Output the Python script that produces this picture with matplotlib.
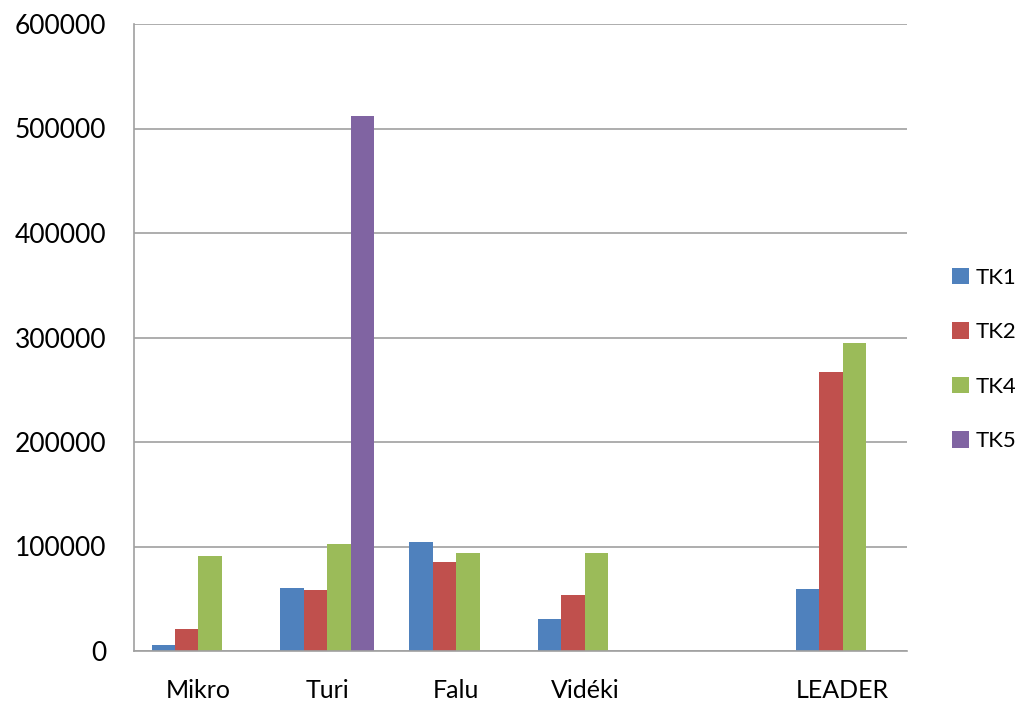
import numpy as np
import matplotlib
matplotlib.use("Agg")
import matplotlib.pyplot as plt
from matplotlib.patches import Patch

categories = ["Mikro", "Turi", "Falu", "Vidéki", "", "LEADER"]
series_names = ["TK1", "TK2", "TK4", "TK5"]
tk1 = [6000, 60000, 104000, 31000, 0, 59000]
tk2 = [21000, 58000, 85000, 54000, 0, 267000]
tk4 = [91000, 102000, 94000, 94000, 0, 295000]
tk5 = [0, 512000, 0, 0, 0, 0]
colors = ["#4F81BD", "#C0504D", "#9BBB59", "#8064A2"]
yticks = [0, 100000, 200000, 300000, 400000, 500000, 600000]

plt.rcParams['font.family'] = ['Lato', 'DejaVu Sans']

W, H = 1015, 703
fig = plt.figure(figsize=(W / 100, H / 100), dpi=100)
ax = fig.add_axes([134 / W, (H - 651) / H, (907 - 134) / W, (651 - 24) / H])

x = np.arange(len(categories))
w = 1 / 5.5
for i, (vals, c) in enumerate(zip([tk1, tk2, tk4, tk5], colors)):
    ax.bar(x + (i - 1.5) * w, vals, width=w, color=c, linewidth=0)

ax.set_xlim(-0.5, len(categories) - 0.5)
ax.set_ylim(0, 600000)
ax.set_yticks(yticks)
ax.set_yticklabels([str(v) for v in yticks], fontsize=19)
ax.set_xticks(x)
ax.set_xticklabels(categories, fontsize=18)
ax.tick_params(axis='y', length=0, pad=20)
ax.tick_params(axis='x', length=0, pad=20)
ax.yaxis.grid(True, color="#A0A0A0", linewidth=1.2)
ax.set_axisbelow(True)
for s in ["top", "right"]:
    ax.spines[s].set_visible(False)
for s in ["left", "bottom"]:
    ax.spines[s].set_color("#A0A0A0")
    ax.spines[s].set_linewidth(1.2)

handles = [Patch(facecolor=c, edgecolor='none') for c in colors]
fig.legend(handles, series_names, loc='upper left', bbox_to_anchor=(943 / W, 1 - 259 / H),
           frameon=False, fontsize=16, handlelength=0.75, handleheight=0.75,
           handletextpad=0.3, labelspacing=1.55, borderaxespad=0)

fig.savefig("out.png", dpi=100)
